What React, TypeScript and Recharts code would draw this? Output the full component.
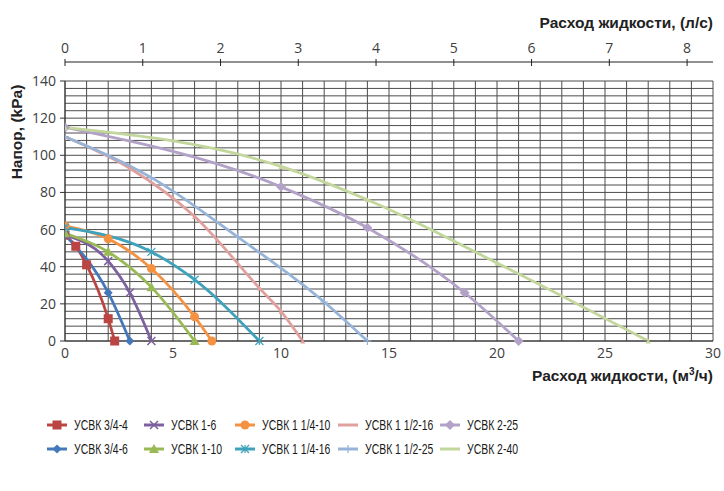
import React from 'react';
import { LineChart, Line, XAxis, YAxis, CartesianGrid } from 'recharts';

// Flow (m³/h) and head (kPa)
const q34_4 = [0, 0.5, 1, 2, 2.3];
const h34_4 = [57, 51, 41, 12, 0];
const q34_6 = [0, 2, 3];
const h34_6 = [57, 26, 0];
const q1_6 = [0, 2, 3, 4];
const h1_6 = [57, 43, 26, 0];
const q1_10 = [0, 2, 4, 6];
const h1_10 = [58, 48, 29, 0];
const q114_10 = [0, 2, 4, 6, 6.8];
const h114_10 = [62, 55, 39, 13, 0];
const q114_16 = [0, 4, 6, 9];
const h114_16 = [61, 48, 33, 0];
const q112_16 = [0, 3, 6, 9, 10, 11];
const h112_16 = [110, 93, 67, 28.5, 16, 0];
const q112_25 = [0, 4, 8, 12, 14];
const h112_25 = [110, 88, 56, 21, 0];
const q2_25 = [0, 10, 14, 18.5, 21];
const h2_25 = [115, 83, 61, 26, 0];
const q2_40 = [0, 10, 14, 20, 27];
const h2_40 = [115, 94, 76, 42, 0];

const bottomTicks = [0, 5, 10, 15, 20, 25, 30];
const topTicks = [0, 1, 2, 3, 4, 5, 6, 7, 8];
const headTicks = [0, 20, 40, 60, 80, 100, 120, 140];
const gridQ = Array.from({ length: 31 }, (_, i) => i);
const gridH = Array.from({ length: 36 }, (_, i) => i * 4);
const Q_MAX = 30;
const H_MAX = 140;

const toRows = (q: number[], h: number[]) => q.map((v, i) => ({ q: v, h: h[i] }));

type Marker = 'square' | 'diamond' | 'x' | 'triangle' | 'circle' | 'star' | 'smalltri' | 'plus' | 'none';

const series: { name: string; q: number[]; h: number[]; color: string; marker: Marker; size: number }[] = [
  { name: 'УСВК 3/4-4', q: q34_4, h: h34_4, color: '#BA4542', marker: 'square', size: 9 },
  { name: 'УСВК 3/4-6', q: q34_6, h: h34_6, color: '#4478BA', marker: 'diamond', size: 9 },
  { name: 'УСВК 1-6', q: q1_6, h: h1_6, color: '#7D60A0', marker: 'x', size: 8 },
  { name: 'УСВК 1-10', q: q1_10, h: h1_10, color: '#98B954', marker: 'triangle', size: 10 },
  { name: 'УСВК 1 1/4-10', q: q114_10, h: h114_10, color: '#F59242', marker: 'circle', size: 9 },
  { name: 'УСВК 1 1/4-16', q: q114_16, h: h114_16, color: '#3FA2BC', marker: 'star', size: 8 },
  { name: 'УСВК 1 1/2-16', q: q112_16, h: h112_16, color: '#E0A09E', marker: 'smalltri', size: 5 },
  { name: 'УСВК 1 1/2-25', q: q112_25, h: h112_25, color: '#97B3D8', marker: 'plus', size: 8 },
  { name: 'УСВК 2-25', q: q2_25, h: h2_25, color: '#B3A2C8', marker: 'diamond', size: 10 },
  { name: 'УСВК 2-40', q: q2_40, h: h2_40, color: '#C3D69B', marker: 'smalltri', size: 5 },
];

// draws one marker shape centred on (cx, cy)
const drawMarker = (kind: Marker, color: string, s: number, cx: number, cy: number, key?: any) => {
  const r = s / 2;
  const t = `translate(${cx},${cy})`;
  switch (kind) {
    case 'square':
      return <rect key={key} x={cx - r} y={cy - r} width={s} height={s} fill={color} />;
    case 'diamond':
      return <path key={key} transform={t} d={`M0,${-r}L${r},0L0,${r}L${-r},0Z`} fill={color} />;
    case 'x':
      return <path key={key} transform={t} d={`M${-r},${-r}L${r},${r}M${-r},${r}L${r},${-r}`} stroke={color} strokeWidth={1.5} />;
    case 'triangle':
      return <path key={key} transform={t} d={`M0,${-r}L${r},${r * 0.8}L${-r},${r * 0.8}Z`} fill={color} />;
    case 'circle':
      return <circle key={key} cx={cx} cy={cy} r={r} fill={color} />;
    case 'star':
      return (
        <path key={key} transform={t} stroke={color} strokeWidth={1.2}
          d={`M${-r},${-r}L${r},${r}M${-r},${r}L${r},${-r}M0,${-r}L0,${r}`} />
      );
    case 'smalltri':
      return <path key={key} transform={t} d={`M0,${-r}L${r},${r}L${-r},${r}Z`} fill={color} />;
    case 'plus':
      return <path key={key} transform={t} d={`M${-r},0L${r},0M0,${-r}L0,${r}`} stroke={color} strokeWidth={1.2} />;
    default:
      return <g key={key} />;
  }
};

const makeDot = (kind: Marker, color: string, s: number) => (props: any) => {
  const { cx, cy, index } = props;
  if (cx == null || cy == null) return <g key={index} />;
  return drawMarker(kind, color, s, cx, cy, index);
};

const renderTopTick = (props: any) => {
  const { x, payload, index } = props;
  return (
    <g key={index}>
      <line x1={x} x2={x} y1={59} y2={66} stroke="#222" strokeWidth={1} />
      <text x={x} y={53} textAnchor="middle" fontSize={14} fill="#404040" fontFamily="'Open Sans', sans-serif">
        {payload.value}
      </text>
    </g>
  );
};

const titleStyle: React.CSSProperties = {
  position: 'absolute',
  fontFamily: "'Liberation Sans', Arial, sans-serif",
  fontWeight: 'bold',
  fontSize: 15.5,
  color: '#222',
  whiteSpace: 'nowrap',
  lineHeight: '18px',
};

const legendCols = [47, 144, 235, 338, 440];
const legendRows = [425, 449];

export default function App() {
  const tickFont = { fontSize: 14, fill: '#404040', fontFamily: "'Open Sans', sans-serif" };
  return (
    <div style={{ position: 'absolute', left: 0, top: 0, width: 724, height: 491, background: '#fff' }}>
      <LineChart width={724} height={491} margin={{ top: 51, right: 11, bottom: 120, left: 25 }}>
        <CartesianGrid
          stroke="#4d4d4d"
          strokeWidth={1}
          verticalCoordinatesGenerator={({ offset }: any) =>
            gridQ.map((v) => offset.left + (offset.width * v) / Q_MAX)
          }
          horizontalCoordinatesGenerator={({ offset }: any) =>
            gridH.map((v) => offset.top + offset.height * (1 - v / H_MAX))
          }
        />
        <XAxis
          xAxisId="m3"
          dataKey="q"
          type="number"
          domain={[0, Q_MAX]}
          ticks={bottomTicks}
          allowDataOverflow
          height={30}
          tickLine={false}
          tickSize={4}
          tickMargin={3}
          axisLine={{ stroke: '#333' }}
          tick={tickFont}
        />
        <XAxis
          xAxisId="ls"
          dataKey="ls"
          orientation="top"
          type="number"
          domain={[0, Q_MAX / 3.6]}
          ticks={topTicks}
          interval={0}
          allowDataOverflow
          height={30}
          tickLine={false}
          axisLine={{ stroke: '#222', transform: 'translate(0,-19)' }}
          tick={renderTopTick}
        />
        <YAxis
          type="number"
          domain={[0, H_MAX]}
          ticks={headTicks}
          width={40}
          tickSize={5}
          tickMargin={4}
          tickLine={{ stroke: '#333' }}
          axisLine={{ stroke: '#333' }}
          tick={tickFont}
        />
        {/* carrier for the l/s axis: no visible marks */}
        <Line
          xAxisId="ls"
          data={topTicks.map((v) => ({ ls: v, h: null }))}
          dataKey="h"
          stroke="none"
          dot={false}
          activeDot={false}
          legendType="none"
          isAnimationActive={false}
        />
        {series.map((s) => (
          <Line
            key={s.name}
            xAxisId="m3"
            data={toRows(s.q, s.h)}
            dataKey="h"
            name={s.name}
            type="monotone"
            stroke={s.color}
            strokeWidth={2.75}
            dot={makeDot(s.marker, s.color, s.size)}
            activeDot={false}
            isAnimationActive={false}
          />
        ))}
      </LineChart>

      <div style={{ ...titleStyle, right: 11, top: 14 }}>Расход жидкости, (л/с)</div>
      <div style={{ ...titleStyle, right: 11, top: 367 }}>
        Расход жидкости, (м<sup style={{ fontSize: 10, lineHeight: 0 }}>3</sup>/ч)
      </div>
      <div
        style={{
          ...titleStyle,
          left: 17,
          top: 132,
          transform: 'translate(-50%, -50%) rotate(-90deg)',
        }}
      >
        Напор, (kPa)
      </div>

      {series.map((s, i) => {
        const col = Math.floor(i / 2);
        const row = i % 2;
        return (
          <div
            key={s.name}
            style={{
              position: 'absolute',
              left: legendCols[col],
              top: legendRows[row] - 9,
              height: 18,
              display: 'flex',
              alignItems: 'center',
              color: '#1a1a1a',
              whiteSpace: 'nowrap',
            }}
          >
            <svg width={20} height={12} style={{ marginRight: 7 }}>
              <line x1={0} x2={20} y1={6} y2={6} stroke={s.color} strokeWidth={3} />
              {s.marker !== 'smalltri' && drawMarker(s.marker, s.color, s.size, 10, 6)}
            </svg>
            <span
              style={{
                display: 'inline-block',
                fontFamily: "'Liberation Sans', Arial, sans-serif",
                fontSize: 14.5,
                transform: 'scaleX(0.72)',
                transformOrigin: 'left center',
              }}
            >
              {s.name}
            </span>
          </div>
        );
      })}
    </div>
  );
}
